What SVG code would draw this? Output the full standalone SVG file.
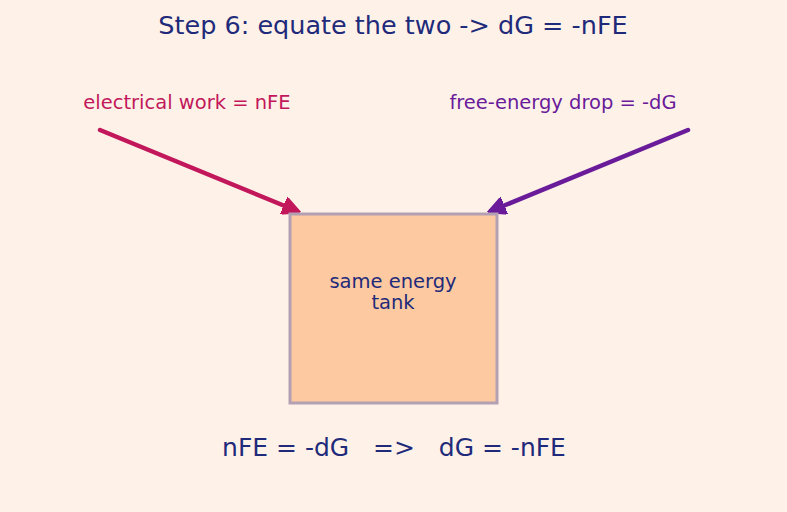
<svg xmlns="http://www.w3.org/2000/svg" width="787" height="512" viewBox="0 0 787 512">
<style>
text{font-family:"DejaVu Sans",sans-serif;text-anchor:middle;white-space:pre}
.t{font-size:25.5px;fill:#1f2a7a}
.b{font-size:25px;fill:#1f2a7a}
.lab{font-size:19.5px}
.box{fill:#fcc9a0;stroke:#b3a0b3;stroke-width:3}
.c{fill:none;stroke-width:4.5;stroke-linecap:round}
</style>
<defs>
<marker id="ar" viewBox="0 0 10 10" refX="8" refY="5" markerWidth="4" markerHeight="4" orient="auto" markerUnits="strokeWidth"><path d="M0,0 L10,5 L0,10 z" fill="#c2185b" stroke="#c2185b" stroke-linejoin="round"/></marker>
<marker id="ap" viewBox="0 0 10 10" refX="8" refY="5" markerWidth="4" markerHeight="4" orient="auto" markerUnits="strokeWidth"><path d="M0,0 L10,5 L0,10 z" fill="#6a1b9a" stroke="#6a1b9a" stroke-linejoin="round"/></marker>
</defs>
<rect width="787" height="512" fill="#fef2e8"/>
<text class="t" x="393" y="34">Step 6: equate the two -&gt; dG = -nFE</text>
<g id="connectors">
<line class="c" x1="100" y1="130" x2="297" y2="211" stroke="#c2185b" marker-end="url(#ar)"/>
<line class="c" x1="688" y1="130" x2="491" y2="211" stroke="#6a1b9a" marker-end="url(#ap)"/>
</g>
<g id="label-work"><text class="lab" x="187" y="109" fill="#c2185b">electrical work = nFE</text></g>
<g id="label-free"><text class="lab" x="563" y="109" fill="#6a1b9a">free-energy drop = -dG</text></g>
<g id="tank">
<rect class="box" x="290" y="214" width="207" height="189"/>
<text class="lab" x="393" y="288" fill="#1f2a7a">same energy</text>
<text class="lab" x="393" y="309" fill="#1f2a7a">tank</text>
</g>
<text class="b" x="394" y="456">nFE = -dG   =&gt;   dG = -nFE</text>
</svg>
